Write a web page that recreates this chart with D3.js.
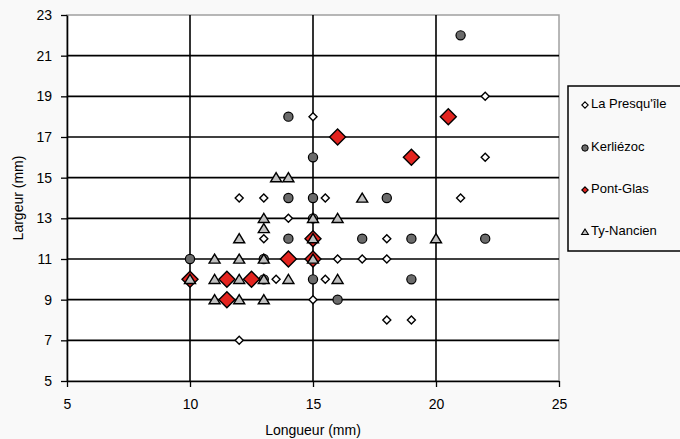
<!DOCTYPE html>
<html><head><meta charset="utf-8">
<script src="https://cdn.jsdelivr.net/npm/d3@7"></script>
<style>
html,body{margin:0;padding:0;background:#f9f9f9;}
svg{display:block;font-family:"Liberation Sans",Arial,sans-serif;}
</style></head>
<body>
<svg id="chart" width="680" height="439"></svg>
<script>
// Data: [Longueur (mm), Largeur (mm)]
const presquile = [[15,18],[22,19],[22,16],[12,14],[13,14],[15.5,14],[21,14],[14,13],[13,12],[18,12],
  [16,11],[17,11],[18,11],[13.5,10],[15.5,10],[15,9],[18,8],[19,8],[12,7]];
const kerliezoc = [[21,22],[14,18],[15,16],[14,14],[15,14],[18,14],[15,13],[14,12],[17,12],[19,12],
  [22,12],[10,11],[13,11],[13,10],[15,10],[19,10],[16,9]];
const pontGlas = [[16,17],[20.5,18],[19,16],[15,12],[14,11],[15,11],[10,10],[11.5,10],[12.5,10],[11.5,9]];
const tyNancien = [[13.5,15],[14,15],[17,14],[13,13],[15,13],[16,13],[13,12.5],[12,12],[15,12],[20,12],
  [11,11],[12,11],[13,11],[15,11],[10,10],[11,10],[12,10],[13,10],[14,10],[16,10],[11,9],[12,9],[13,9]];
const seriesNames = ["La Presqu'île","Kerliézoc","Pont-Glas","Ty-Nancien"];
const xTicks = [5,10,15,20,25];
const yTicks = [5,7,9,11,13,15,17,19,21,23];
const xTitle = "Longueur (mm)";
const yTitle = "Largeur (mm)";

const svg = d3.select("#chart");
const L = 67, R = 559, T = 15, B = 381;
const x = d3.scaleLinear().domain([5,25]).range([L,R]);
const y = d3.scaleLinear().domain([5,23]).range([B,T]);

// plot area
svg.append("rect").attr("x",L).attr("y",T).attr("width",R-L).attr("height",B-T)
  .attr("fill","#fff").attr("stroke","#a0a0a0").attr("stroke-width",1.5);

// gridlines
svg.append("g").selectAll("line").data(yTicks.filter(v=>v>5&&v<23)).join("line")
  .attr("x1",L).attr("x2",R).attr("y1",d=>y(d)).attr("y2",d=>y(d))
  .attr("stroke","#000").attr("stroke-width",1.6);
svg.append("g").selectAll("line").data(xTicks.filter(v=>v>5&&v<25)).join("line")
  .attr("y1",T).attr("y2",B).attr("x1",d=>x(d)).attr("x2",d=>x(d))
  .attr("stroke","#000").attr("stroke-width",1.6);

// axes
const gx = svg.append("g").attr("transform",`translate(0,${B})`)
  .call(d3.axisBottom(x).tickValues(xTicks).tickSize(6).tickSizeOuter(0).tickPadding(12));
const gy = svg.append("g").attr("transform",`translate(${L},0)`)
  .call(d3.axisLeft(y).tickValues(yTicks).tickSize(6).tickSizeOuter(0).tickPadding(9));
[gx,gy].forEach(g=>{
  g.select(".domain").attr("stroke","#000").attr("stroke-width",1.6);
  g.selectAll(".tick line").attr("stroke","#000").attr("stroke-width",1.3);
  g.selectAll(".tick text").attr("font-size",14).attr("fill","#000")
    .attr("font-family","'Liberation Sans',Arial,sans-serif");
});

svg.append("text").attr("x",(L+R)/2).attr("y",435).attr("text-anchor","middle")
  .attr("font-size",14).text(xTitle);
svg.append("text").attr("transform",`translate(19,${(T+B)/2}) rotate(-90)`)
  .attr("text-anchor","middle").attr("dominant-baseline","middle").attr("font-size",14).text(yTitle);

// marker shapes
const diamond = (r)=>`M0,${-r}L${r},0L0,${r}L${-r},0Z`;
const tri = (s)=>`M0,${-s*0.9}L${s},${s*0.75}L${-s},${s*0.75}Z`;
const styles = [
  {data:presquile, shape:"path", d:diamond(4), fill:"#fff", ld:diamond(3.2)},
  {data:kerliezoc, shape:"circle", r:4.6, fill:"#6b6b6b", lr:3.2},
  {data:pontGlas, shape:"path", d:diamond(8), fill:"#e3241f", ld:diamond(3.2)},
  {data:tyNancien, shape:"path", d:tri(5.5), fill:"#c0c0c0", ld:tri(3.4)}
];
const gm = svg.append("g");
styles.forEach(s=>{
  if(s.shape==="circle"){
    gm.append("g").selectAll("circle").data(s.data).join("circle")
      .attr("cx",d=>x(d[0])).attr("cy",d=>y(d[1])).attr("r",s.r)
      .attr("fill",s.fill).attr("stroke","#000").attr("stroke-width",1.2);
  } else {
    gm.append("g").selectAll("path").data(s.data).join("path")
      .attr("transform",d=>`translate(${x(d[0])},${y(d[1])})`).attr("d",s.d)
      .attr("fill",s.fill).attr("stroke","#000").attr("stroke-width",1.4).attr("stroke-linejoin","miter");
  }
});

// legend
const lg = svg.append("g");
lg.append("rect").attr("x",568).attr("y",86).attr("width",130).attr("height",165)
  .attr("fill","none").attr("stroke","#000").attr("stroke-width",1.5);
const legY = [105,148,190,232];
styles.forEach((s,i)=>{
  const g = lg.append("g").attr("transform",`translate(585,${legY[i]})`);
  if(s.shape==="circle") g.append("circle").attr("r",s.lr).attr("fill",s.fill).attr("stroke","#000").attr("stroke-width",1);
  else g.append("path").attr("d",s.ld).attr("fill",s.fill).attr("stroke","#000").attr("stroke-width",1.1);
  lg.append("text").attr("x",591).attr("y",legY[i]).attr("dominant-baseline","middle")
    .attr("font-size",13).text(seriesNames[i]);
});
</script>
</body></html>
